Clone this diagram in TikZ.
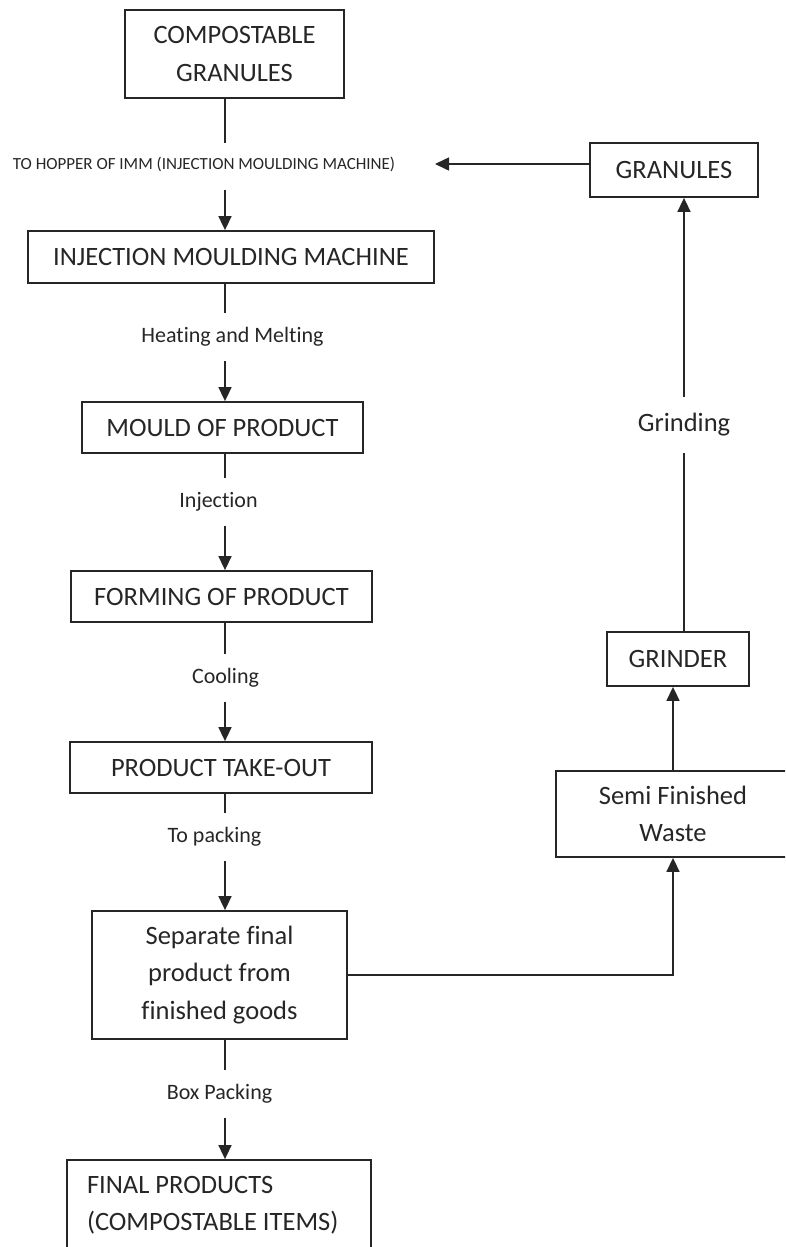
\documentclass[tikz,border=0pt]{standalone}
\usepackage{fontspec}
\setmainfont[Ligatures=NoCommon]{Carlito}
\usetikzlibrary{arrows.meta}
\newcommand{\boxfont}{\fontsize{26.5}{37.5}\selectfont}
\newcommand{\labfont}{\fontsize{22}{26}\selectfont}
\newcommand{\hopfont}{\fontsize{17}{20}\selectfont}
\newcommand{\inkcolor}{black!85!white}

\begin{document}
\begin{tikzpicture}[x=1pt, y=-1pt, >={Triangle[length=14pt, width=13pt]},
    stage/.style={draw=\inkcolor, line width=1.8pt, inner sep=0pt, font=\boxfont, align=center, text=\inkcolor},
    flowtext/.style={inner sep=0pt, minimum height=48pt, font=\labfont, text=\inkcolor},
    flow/.style={draw=\inkcolor, line width=1.6pt}]
    \useasboundingbox (0,0) rectangle (785,1247);
    \clip (0,0) rectangle (785,1247);
    \coordinate (spine) at (225,0);
    \coordinate (hopin) at (435,164);

    % main line
    \node[stage, minimum width=219pt, minimum height=88pt] (granin) at (234.5,54) {COMPOSTABLE\\GRANULES};
    \node[flowtext, font=\hopfont, minimum height=40pt] (hopper) at (204,164) {TO HOPPER OF IMM (INJECTION MOULDING MACHINE)};
    \node[stage, minimum width=406pt, minimum height=52pt] (imm) at (231,257) {INJECTION MOULDING MACHINE};
    \node[flowtext] (heat) at (232.5,337) {Heating and Melting};
    \node[stage, minimum width=281pt, minimum height=51pt] (mould) at (222.5,427.5) {MOULD OF PRODUCT};
    \node[flowtext] (inject) at (218.5,502) {Injection};
    \node[stage, minimum width=301pt, minimum height=51pt] (forming) at (221.5,596.5) {FORMING OF PRODUCT};
    \node[flowtext] (cool) at (225.5,678) {Cooling};
    \node[stage, minimum width=302pt, minimum height=51pt] (takeout) at (221,767.5) {PRODUCT TAKE-OUT};
    \node[flowtext] (topack) at (214.5,837) {To packing};
    \node[stage, minimum width=255pt, minimum height=128pt] (separate) at (219.5,975) {Separate final\\product from\\finished goods};
    \node[flowtext] (boxpack) at (219.5,1094) {Box Packing};
    \node[stage, minimum width=304pt, minimum height=90pt, text width=264pt, align=flush left] (final) at (219,1205) {FINAL PRODUCTS\\(COMPOSTABLE ITEMS)};

    % waste loop
    \node[stage, minimum width=168pt, minimum height=54pt] (granout) at (674,170) {GRANULES};
    \node[flowtext, font=\boxfont, minimum height=56pt] (grinding) at (684,425) {Grinding};
    \node[stage, minimum width=142pt, minimum height=54pt] (grinder) at (678,659) {GRINDER};
    \node[stage, minimum width=234pt, minimum height=86pt] (waste) at (673,814) {Semi Finished\\Waste};

    % connectors
    \draw[flow] (spine |- granin.south) -- ([yshift=1pt]spine |- hopper.north);
    \draw[flow, ->] ([yshift=-6pt]spine |- hopper.south) -- (spine |- imm.north);
    \draw[flow] (spine |- imm.south) -- (spine |- heat.north);
    \draw[flow, ->] (spine |- heat.south) -- (spine |- mould.north);
    \draw[flow] (spine |- mould.south) -- (spine |- inject.north);
    \draw[flow, ->] (spine |- inject.south) -- (spine |- forming.north);
    \draw[flow] (spine |- forming.south) -- (spine |- cool.north);
    \draw[flow, ->] (spine |- cool.south) -- (spine |- takeout.north);
    \draw[flow] (spine |- takeout.south) -- (spine |- topack.north);
    \draw[flow, ->] (spine |- topack.south) -- (spine |- separate.north);
    \draw[flow] (spine |- separate.south) -- (spine |- boxpack.north);
    \draw[flow, ->] (spine |- boxpack.south) -- (spine |- final.north);

    \draw[flow, ->] (separate.east) -| (waste.south);
    \draw[flow, ->] (waste.north) -- (waste.north |- grinder.south);
    \draw[flow] (grinding |- grinder.north) -- (grinding.south);
    \draw[flow, ->] (grinding.north) -- (grinding |- granout.south);
    \draw[flow, ->] (granout.west |- hopin) -- (hopin);
\end{tikzpicture}
\end{document}
